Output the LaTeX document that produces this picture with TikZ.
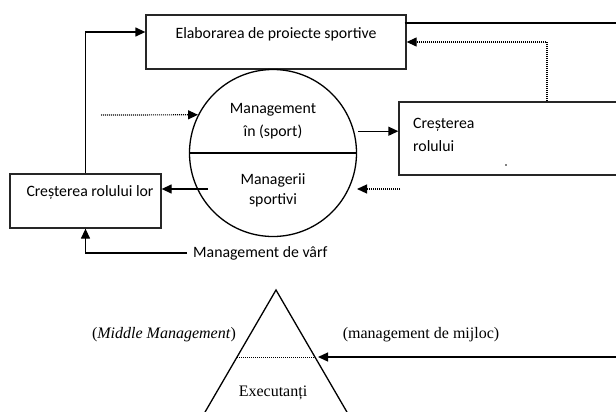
\documentclass[tikz,border=0pt]{standalone}
\usepackage{fontspec}
\setmainfont{Liberation Serif}
\newfontfamily\boxfont{Carlito}
\usetikzlibrary{arrows.meta, positioning}

\begin{document}
\begin{tikzpicture}[
    x=1pt, y=-1pt,
    >={Triangle[length=10pt, width=9pt]},
    box/.style  = {draw=black!85, line width=1.3pt, inner sep=0pt},
    con/.style  = {->, line width=1.3pt},
    dcon/.style = {->, line width=1.2pt, dash pattern=on 1pt off 1pt},
    lab/.style  = {font=\boxfont\fontsize{15.8}{23}\selectfont, inner sep=0pt},
    slab/.style = {font=\fontsize{16}{19}\selectfont, inner sep=0pt}
  ]
  \useasboundingbox (0,0) rectangle (616,412);
  \clip (0,0) rectangle (616,412);

  % --- boxes ---
  \node[box, minimum width=260pt, minimum height=54pt] (proj) at (276,42) {};
  \node[lab] (projt) at (276,34) {Elaborarea de proiecte sportive};

  \node[box, minimum width=151pt, minimum height=54pt] (lor) at (85.5,201) {};
  \node[lab] (lort) at (90,192) {Creșterea rolului lor};

  \node[box, minimum width=241pt, minimum height=73pt] (rol) at (519.5,138.5) {};
  \node[lab, align=left, anchor=west] (rolt) at (413,135) {Creșterea\\rolului};
  \fill (506,165) circle (0.9pt);

  % --- circle split in two ---
  \node[draw, circle, line width=1.3pt, minimum size=167pt, inner sep=0pt] (mg) at (273,153) {};
  \draw[line width=1.3pt] (mg.west) -- (mg.east);
  \node[lab, align=center] (mgt) at (273,121) {Management\\în (sport)};
  \node[lab, align=center, font=\boxfont\fontsize{15.8}{20}\selectfont] (mgb) at (273,190) {Managerii\\sportivi};

  % --- free ends ---
  \coordinate (redge) at (616,23);
  \coordinate (dl) at (101,115);
  \coordinate (dr) at (400,189);
  \coordinate (drend) at (357,189);
  \coordinate (ml) at (208,189);

  % --- connectors ---
  \draw[con] (lor.north) |- ([yshift=10pt]proj.west);
  \draw[line width=1.3pt] ([yshift=19pt,xshift=-2pt]proj.east) -- (redge);
  \draw[dcon] ([xshift=27.5pt]rol.north) |- (proj.east);
  \draw[dcon] (dl) -- (mg.153);
  \draw[con] ([xshift=4pt]mg.15) -- (rol.west |- mg.15);
  \draw[dcon] (dr) -- (drend);
  \draw[con] (ml) -- (lor.east |- ml);

  \node[lab, anchor=west] (vf) at (193,253) {Management de vârf};
  \draw[con] ([xshift=-6pt]vf.west) -| (lor.south);

  % --- pyramid ---
  \coordinate (apex) at (276,290);
  \coordinate (bl) at (201,419);
  \coordinate (br) at (351,419);
  \draw[line width=1.3pt] (bl) -- (apex) -- (br);
  \coordinate (pl) at (237,357);
  \coordinate (pr) at (315,357);
  \draw[line width=1pt, dash pattern=on 1pt off 1pt] (pl) -- (pr);
  \coordinate (mredge) at (616,357);
  \draw[con] (mredge) -- ([xshift=3pt]pr);

  \node[slab] (mmid) at (164,335) {(\textit{Middle Management})};
  \node[slab] (mmij) at (421,335) {(management de mijloc)};
  \node[slab] (exec) at (273,393) {Executanți};

\end{tikzpicture}
\end{document}
